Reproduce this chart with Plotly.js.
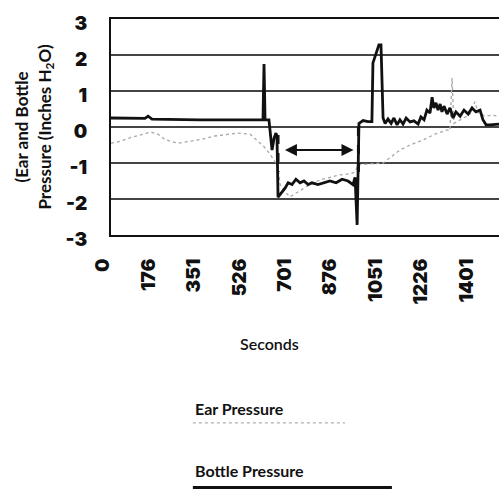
<!DOCTYPE html>
<html>
<head>
<meta charset="utf-8">
<script src="https://cdn.plot.ly/plotly-3.0.1.min.js"></script>
<style>html,body{margin:0;padding:0;background:#fff;}#chart{width:499px;height:489px;}</style>
</head>
<body>
<div id="chart"></div>
<script>
// Bottle pressure (thick black line)
const bottleSec = [0,73,131,143,158,343,586,590,594,609,621,629,636,640,644,671,683,698,713,729,744,760,775,798,821,844,868,891,914,933,941,949,956,972,991,1006,1010,1033,1041,1049,1057,1068,1080,1091,1103,1114,1126,1138,1153,1168,1184,1195,1207,1218,1230,1238,1245,1253,1261,1269,1276,1284,1296,1307,1319,1330,1346,1361,1377,1392,1407,1423,1434,1446,1461,1481,1496];
const bottleVal = [0.25,0.25,0.24,0.3,0.22,0.2,0.2,1.75,0.2,0.2,-0.64,-0.3,-0.17,-0.25,-1.95,-1.7,-1.55,-1.6,-1.45,-1.55,-1.5,-1.6,-1.55,-1.6,-1.55,-1.5,-1.55,-1.45,-1.5,-1.6,-1.4,-2.72,0.1,0.18,0.15,0.15,1.78,2.28,2.28,0.25,0.1,0.22,0.1,0.25,0.06,0.2,0.08,0.25,0.14,0.17,0.08,0.28,0.2,0.47,0.39,0.83,0.53,0.67,0.47,0.64,0.42,0.58,0.36,0.53,0.25,0.42,0.3,0.47,0.36,0.53,0.42,0.47,0.2,0.06,0.06,0.08,0.08];
// Ear pressure (thin grey dotted line)
const earSec = [0,35,73,112,154,181,208,258,305,343,401,451,490,536,567,590,613,632,644,652,671,690,710,729,767,806,844,883,922,941,952,998,1049,1076,1114,1153,1203,1249,1296,1307,1315,1322,1346,1369,1384,1403,1415,1442,1469,1496];
const earVal = [-0.45,-0.4,-0.3,-0.22,-0.14,-0.2,-0.35,-0.45,-0.4,-0.35,-0.25,-0.2,-0.17,-0.2,-0.4,-0.55,-0.75,-0.97,-1.1,-1.6,-1.8,-1.94,-1.85,-1.75,-1.6,-1.47,-1.4,-1.33,-1.3,-1.25,-1.05,-1.02,-1.0,-0.85,-0.64,-0.5,-0.36,-0.2,-0.08,-0.1,1.36,0.1,0.2,0.3,0.35,0.7,0.4,0.3,0.33,0.3];
// Axis ticks
const xTicks = [0,176,351,526,701,876,1051,1226,1401];
const yTicks = [-3,-2,-1,0,1,2,3];
// Annotation marks: interval markers and arrow
const markerSec = [644, 954];
const markerTop = [-0.22, 0];
const markerBottom = [-1.25, -1.25];
const arrowSec = [659, 935];
const arrowVal = -0.64;

const tickFont = {family: 'Inter, "Liberation Sans", Arial, sans-serif', size: 19, color: '#111', weight: 900};
const textFont = {family: 'Lato, "Liberation Sans", sans-serif', color: '#111', weight: 700};

const traces = [
  {x: earSec, y: earVal, mode: 'lines', name: 'Ear Pressure',
   line: {color: '#a8a8a8', width: 1.3, dash: 'dot'}, showlegend: false},
  {x: bottleSec, y: bottleVal, mode: 'lines', name: 'Bottle Pressure',
   line: {color: '#111', width: 2.8}, showlegend: false}
];

const shapes = [];
for (let i = 0; i < markerSec.length; i++) {
  shapes.push({type: 'line', xref: 'x', yref: 'y', x0: markerSec[i], x1: markerSec[i],
    y0: markerTop[i], y1: markerBottom[i], line: {color: '#111', width: 3, dash: 'dash'}});
}
// Legend samples
shapes.push({type: 'line', xref: 'paper', yref: 'paper', x0: 0.211, x1: 0.603, y0: -0.870, y1: -0.870,
  line: {color: '#b0b0b0', width: 1.3, dash: 'dot'}});
shapes.push({type: 'line', xref: 'paper', yref: 'paper', x0: 0.211, x1: 0.724, y0: -1.178, y1: -1.178,
  line: {color: '#111', width: 7}});

const annotations = [
  {x: arrowSec[1], y: arrowVal, ax: arrowSec[0], ay: arrowVal, xref: 'x', yref: 'y', axref: 'x', ayref: 'y',
   showarrow: true, arrowhead: 2, arrowside: 'end+start', arrowsize: 1.2, arrowwidth: 2, arrowcolor: '#111', text: ' '},
  {x: 0.409, y: -0.5, xref: 'paper', yref: 'paper', text: 'Seconds', showarrow: false,
   font: Object.assign({}, textFont, {size: 16, weight: 600}), xanchor: 'center', yanchor: 'middle'},
  {x: 0.211, y: -0.801, xref: 'paper', yref: 'paper', text: 'Ear Pressure', showarrow: false,
   font: Object.assign({}, textFont, {size: 16}), xanchor: 'left', yanchor: 'middle'},
  {x: 0.211, y: -1.088, xref: 'paper', yref: 'paper', text: 'Bottle Pressure', showarrow: false,
   font: Object.assign({}, textFont, {size: 16}), xanchor: 'left', yanchor: 'middle'}
];

const layout = {
  width: 499, height: 489,
  margin: {l: 111, r: 0, t: 19, b: 254},
  paper_bgcolor: '#fff', plot_bgcolor: '#fff',
  showlegend: false,
  xaxis: {
    range: [0, 1496], tickvals: xTicks, ticktext: xTicks.map(String),
    tickangle: -90, tickfont: tickFont, showgrid: false, zeroline: false,
    showline: true, linecolor: '#111', linewidth: 2, mirror: true,
    ticks: '', ticklabelstandoff: 14, ticklabelshift: -8
  },
  yaxis: {
    range: [-3, 3], tickvals: yTicks, ticktext: yTicks.map(String),
    tickfont: tickFont, showgrid: true, gridcolor: '#444', gridwidth: 1.4, zeroline: false,
    showline: true, linecolor: '#111', linewidth: 2,
    ticks: '', ticklabelstandoff: 18, ticklabelshift: 4,
    title: {text: '(Ear and Bottle<br>Pressure (Inches H<sub>2</sub>O)', font: Object.assign({}, textFont, {size: 17}), standoff: 10}
  },
  shapes: shapes,
  annotations: annotations
};

Plotly.newPlot('chart', traces, layout, {staticPlot: true, displayModeBar: false});
</script>
</body>
</html>
